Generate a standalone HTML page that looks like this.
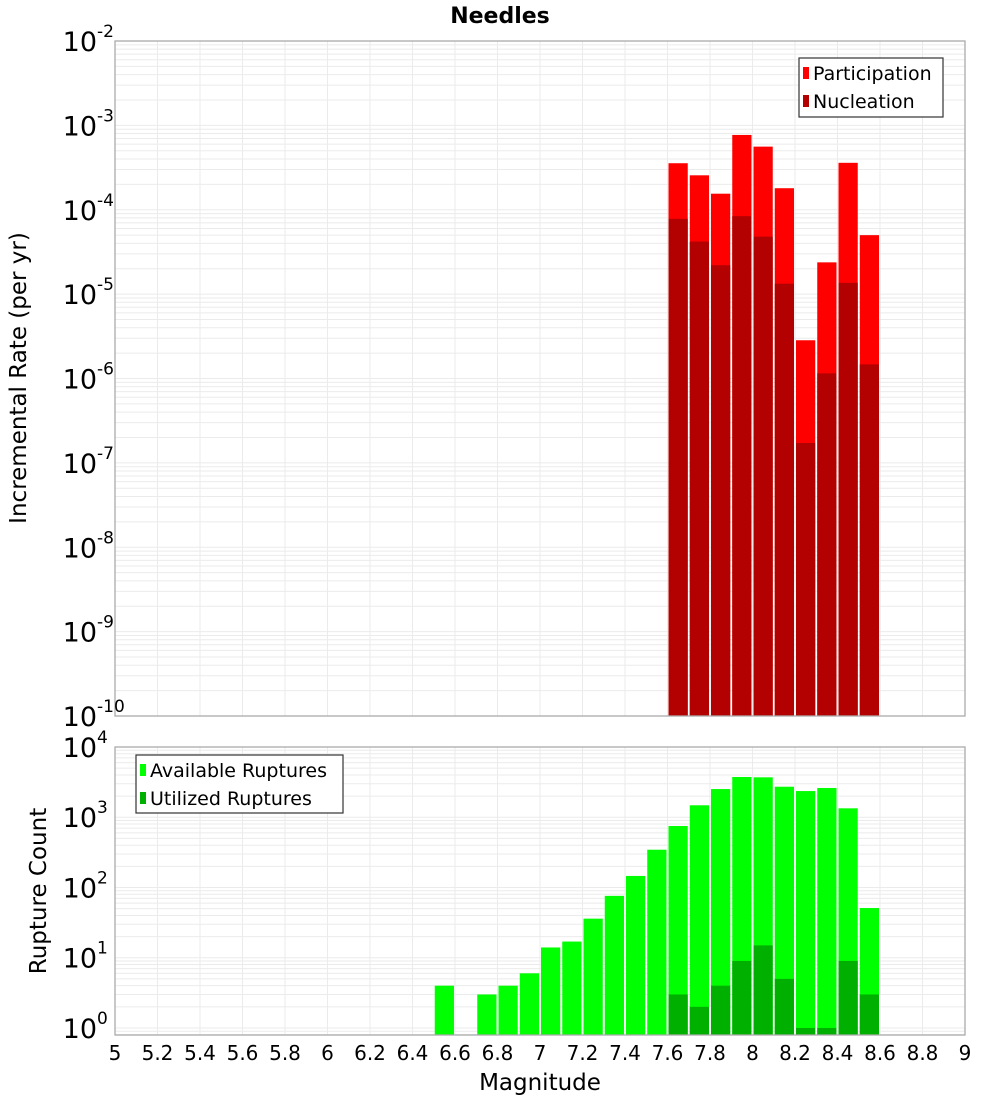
<!DOCTYPE html>
<html><head><meta charset="utf-8">
<style>
html,body{margin:0;padding:0;background:#fff;}
svg{display:block;font-family:"DejaVu Sans","Liberation Sans",sans-serif;}
</style></head>
<body>
<svg id="chart" width="1000" height="1100" viewBox="0 0 1000 1100" xmlns="http://www.w3.org/2000/svg">
<text x="500" y="23" text-anchor="middle" font-size="22" font-weight="bold">Needles</text>
<g id="top"></g>
<g id="bot"></g>
</svg>
<script>
// Top chart data (rate per yr)
const topMags = [7.6,7.7,7.8,7.9,8.0,8.1,8.2,8.3,8.4,8.5];
const participation = [3.56e-4,2.56e-4,1.55e-4,7.7e-4,5.6e-4,1.8e-4,2.84e-6,2.38e-5,3.6e-4,5.0e-5];
const nucleation = [7.8e-5,4.2e-5,2.2e-5,8.4e-5,4.8e-5,1.33e-5,1.72e-7,1.15e-6,1.36e-5,1.47e-6];
const topTickExps = [-10,-9,-8,-7,-6,-5,-4,-3,-2];
// Bottom chart data
const botMags = [6.5,6.7,6.8,6.9,7.0,7.1,7.2,7.3,7.4,7.5,7.6,7.7,7.8,7.9,8.0,8.1,8.2,8.3,8.4,8.5];
const available = [4,3,4,6,14,17,36,76,146,345,750,1480,2520,3740,3700,2720,2360,2610,1340,51];
const utilMags = [7.6,7.7,7.8,7.9,8.0,8.1,8.2,8.3,8.4,8.5];
const utilized = [3,2,4,9,15,5,1,1,9,3];
const botTickExps = [0,1,2,3,4];
const xTicks = [5,5.2,5.4,5.6,5.8,6,6.2,6.4,6.6,6.8,7,7.2,7.4,7.6,7.8,8,8.2,8.4,8.6,8.8,9];

const NS="http://www.w3.org/2000/svg";
const L=115,R=965;
const xs=m=>L+(m-5)/4*(R-L);
function mk(tag,attrs,parent){const e=document.createElementNS(NS,tag);for(const k in attrs)e.setAttribute(k,attrs[k]);parent.appendChild(e);return e;}

function panel(g,top,bottom,minE,maxE,name){
  const ys=v=>bottom-(Math.log10(v)-minE)/(maxE-minE)*(bottom-top);
  const grid=mk('g',{},g);
  
  
  for(let e=Math.floor(minE);e<maxE;e++){for(let k=1;k<10;k++){const v=k*Math.pow(10,e);const y=ys(v);if(y<top-0.1||y>bottom+0.1)continue;
    mk('line',{x1:L,x2:R,y1:y,y2:y,stroke:'#ebebeb','stroke-width':1},grid);}}
  for(const t of xTicks){const x=xs(t);mk('line',{x1:x,x2:x,y1:top,y2:bottom,stroke:'#ebebeb','stroke-width':1},grid);}
  return ys;
}
function bars(g,mags,vals,ys,bottom,color,name){
  mags.forEach((m,i)=>{const x0=xs(m)+1,x1=xs(m+0.1)-1;const y=ys(vals[i]);
    const r=mk('rect',{x:x0,y:y,width:x1-x0,height:bottom-y,fill:color},g);
    
    });
}
function yLabels(g,exps,ys,name){
  exps.forEach(e=>{const y=ys(Math.pow(10,e));
    const t=mk('text',{x:97,y:y+10,'text-anchor':'end','font-size':27},g);t.textContent='10';
    
    
    const s=mk('text',{x:97,y:y-4,'font-size':17},g);s.textContent=String(e);
    
    });
}
function legend(g,x,y,w,h,items){
  const lg=mk('g',{},g);
  
  
  mk('rect',{x:x,y:y,width:w,height:h,fill:'#fff',stroke:'#333','stroke-width':1.2},lg);
  items.forEach((it,i)=>{const cy=y+15+i*28;
    mk('rect',{x:x+4,y:cy-6,width:6,height:12,fill:it[1]},lg);
    const t=mk('text',{x:x+14,y:cy+7,'font-size':19},lg);t.textContent=it[0];
    
    });
}

// top panel
const gT=document.getElementById('top');
const T0=41,T1=716;
const ysT=panel(gT,T0,T1,-10,-2,'top');
bars(gT,topMags,participation,ysT,T1,'#ff0000','participation-bar');
bars(gT,topMags,nucleation,ysT,T1,'#b30000','nucleation-bar');
mk('rect',{x:L,y:T0,width:R-L,height:T1-T0,fill:'none',stroke:'#aaa','stroke-width':1.3},gT);
yLabels(gT,topTickExps,ysT,'top-y');
legend(gT,799,58,144,59,[['Participation','#ff0000'],['Nucleation','#b30000']]);
const yt=mk('text',{x:0,y:0,'font-size':23,'text-anchor':'middle',transform:'translate(26,378) rotate(-90)'},gT);
yt.textContent='Incremental Rate (per yr)';



// bottom panel
const gB=document.getElementById('bot');
const B0=747,B1=1035;
const ysB=panel(gB,B0,B1,-0.1,4,'bottom');
bars(gB,botMags,available,ysB,B1,'#00ff00','available-bar');
bars(gB,utilMags,utilized,ysB,B1,'#00b000','utilized-bar');
mk('rect',{x:L,y:B0,width:R-L,height:B1-B0,fill:'none',stroke:'#aaa','stroke-width':1.3},gB);
yLabels(gB,botTickExps,ysB,'bottom-y');
legend(gB,136,755,207,58,[['Available Ruptures','#00ff00'],['Utilized Ruptures','#00b000']]);
const yb=mk('text',{x:0,y:0,'font-size':23,'text-anchor':'middle',transform:'translate(46,891) rotate(-90)'},gB);
yb.textContent='Rupture Count';


xTicks.forEach(t=>{const tx=mk('text',{x:xs(t),y:1060,'text-anchor':'middle','font-size':20},gB);
  tx.textContent=String(t);
  
  });
const xt=mk('text',{x:540,y:1090,'text-anchor':'middle','font-size':23},gB);
xt.textContent='Magnitude';


</script>
</body></html>
